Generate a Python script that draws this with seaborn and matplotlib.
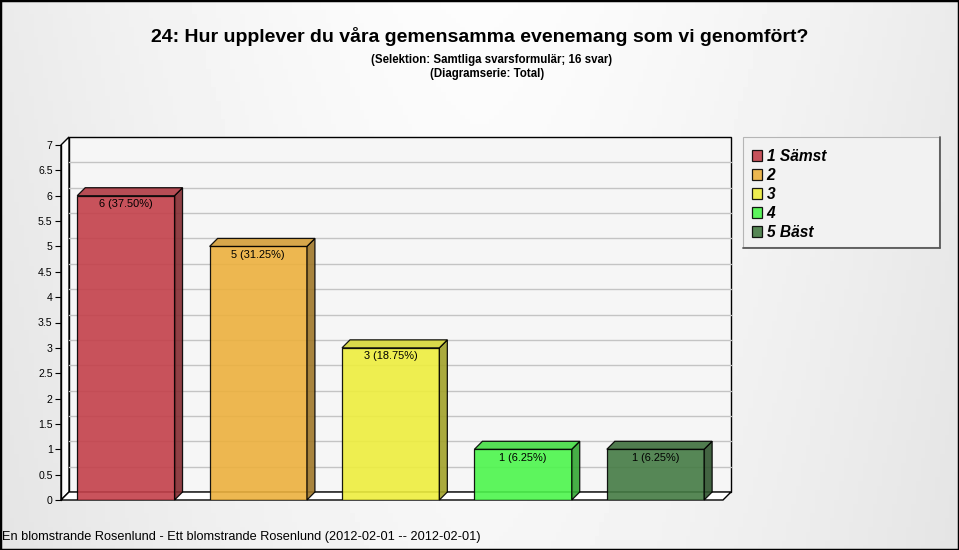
import numpy as np
import pandas as pd
import seaborn as sns
import matplotlib
matplotlib.use("Agg")
import matplotlib.pyplot as plt
from matplotlib.patches import Polygon, Patch, Rectangle
from matplotlib.lines import Line2D
import matplotlib.colors as mcolors

# ---------------- data ----------------
categories = ["1 Sämst", "2", "3", "4", "5 Bäst"]
counts = [6, 5, 3, 1, 1]
total_answers = 16
bar_colors = ["#C3404A", "#ECB13E", "#EEEE3E", "#4CF54C", "#457B44"]
yticks = [0, 0.5, 1, 1.5, 2, 2.5, 3, 3.5, 4, 4.5, 5, 5.5, 6, 6.5, 7]
title = "24: Hur upplever du våra gemensamma evenemang som vi genomfört?"
subtitle1 = "(Selektion: Samtliga svarsformulär; 16 svar)"
subtitle2 = "(Diagramserie: Total)"
footer = "En blomstrande Rosenlund - Ett blomstrande Rosenlund (2012-02-01 -- 2012-02-01)"

sns.set_theme(style="white")
plt.rcParams["font.family"] = ["Liberation Sans", "DejaVu Sans"]
plt.rcParams["text.color"] = "black"
plt.rcParams["ytick.color"] = "black"
plt.rcParams["ytick.labelcolor"] = "black"

W, H = 959, 550
fig = plt.figure(figsize=(W / 100, H / 100), dpi=100)
fig.patch.set_facecolor("#f0f0f0")

# background gradient (pixel coordinates, y downwards)
bg = fig.add_axes([0, 0, 1, 1], zorder=-10)
xx, yy = np.meshgrid(np.linspace(-1, 1, 200), np.linspace(0, 1, 120))
img = 0.99 - 0.07 * np.abs(xx) ** 1.5 - 0.025 * yy
bg.imshow(img, cmap="gray", vmin=0, vmax=1, aspect="auto", extent=[0, W, H, 0], origin="upper")
bg.set_xlim(0, W)
bg.set_ylim(H, 0)
bg.set_axis_off()
bg.add_patch(Rectangle((0, 0), 1, 1, transform=bg.transAxes, fill=False,
                       edgecolor="black", linewidth=2.5, clip_on=False))
# legend frame
bg.add_patch(Rectangle((743, 137), 196, 110, facecolor="#f2f2f2", edgecolor="#b5b5b5",
                       linewidth=0.8, zorder=2))
bg.add_line(Line2D([940, 940], [137, 248], color="#5a5a5a", linewidth=1.3, zorder=3))
bg.add_line(Line2D([743, 940], [248, 248], color="#5a5a5a", linewidth=1.3, zorder=3))

# main axes = front plane
L, R, B, T = 61, 723, 500, 145
ax = fig.add_axes([L / W, 1 - B / H, (R - L) / W, (B - T) / H])
ax.set_facecolor("none")

df = pd.DataFrame({"cat": categories, "n": counts})
sns.barplot(data=df, x="cat", y="n", hue="cat", palette=bar_colors, hue_order=categories,
            order=categories, width=0.735, saturation=1, edgecolor="black", linewidth=0.9,
            alpha=0.9, legend=False, ax=ax, zorder=3)
bars = sorted([p for p in ax.patches if isinstance(p, Rectangle) and p.get_height() > 0],
              key=lambda p: p.get_x())
ax.set_xlim(-0.49, 4.51)
ax.set_ylim(0, 7)
for s in ax.spines.values():
    s.set_visible(False)
ax.set_xlabel("")
ax.set_ylabel("")
ax.set_xticks([])
ax.set_yticks(yticks)
ax.set_yticklabels([f"{v:g}" for v in yticks], fontsize=7.6, color="black")
ax.tick_params(axis="y", length=4, width=0.8, color="black", pad=2, left=True)

# depth offset (8 px) expressed in data units
fig.canvas.draw()
inv = ax.transData.inverted()
xlo = ax.get_xlim()[0]
p0 = ax.transData.transform((xlo, 0))
p1 = inv.transform((p0[0] + 8, p0[1] + 8))
dx, dy = p1[0] - xlo, p1[1] - 0

x0, x1 = ax.get_xlim()
# back wall
ax.add_patch(Polygon([(x0 + dx, dy), (x1 + dx, dy), (x1 + dx, 7 + dy), (x0 + dx, 7 + dy)],
                     closed=True, facecolor="#f6f6f6", edgecolor="black", linewidth=1.0,
                     zorder=0, clip_on=False))
# left wall
ax.add_patch(Polygon([(x0, 0), (x0 + dx, dy), (x0 + dx, 7 + dy), (x0, 7)],
                     closed=True, facecolor="#f9f9f9", edgecolor="black", linewidth=1.0,
                     zorder=0.5, clip_on=False))
# floor
ax.add_patch(Polygon([(x0, 0), (x1, 0), (x1 + dx, dy), (x0 + dx, dy)],
                     closed=True, facecolor="#ffffff", edgecolor="black", linewidth=1.0,
                     zorder=0.5, clip_on=False))
# gridlines on back wall
for v in yticks[1:-1]:
    ax.add_line(Line2D([x0 + dx, x1 + dx], [v + dy, v + dy], color="#c4c4c4",
                       linewidth=1.0, zorder=1, clip_on=False))
# front y axis line
ax.add_line(Line2D([x0, x0], [0, 7], color="black", linewidth=1.0, zorder=2, clip_on=False))

# 3D bar sides and tops
for p, col, n in zip(bars, bar_colors, counts):
    bx0 = p.get_x()
    bx1 = bx0 + p.get_width()
    h = p.get_height()
    rgb = np.array(mcolors.to_rgb(col))
    side = Polygon([(bx1, 0), (bx1 + dx, dy), (bx1 + dx, h + dy), (bx1, h)], closed=True,
                   facecolor=rgb * 0.68, edgecolor="black", linewidth=0.9, alpha=0.9,
                   zorder=3, clip_on=False)
    top = Polygon([(bx0, h), (bx1, h), (bx1 + dx, h + dy), (bx0 + dx, h + dy)], closed=True,
                  facecolor=rgb * 0.9, edgecolor="black", linewidth=0.9, alpha=0.9,
                  zorder=3, clip_on=False)
    ax.add_patch(side)
    ax.add_patch(top)
    ax.annotate(f"{n} ({n / total_answers * 100:.2f}%)", xy=((bx0 + bx1) / 2, h),
                xytext=(0, -2.5), textcoords="offset points", ha="center", va="top",
                fontsize=7.9, color="black", zorder=5)

# titles
fig.text(480 / W, 1 - 36 / H, title, ha="center", va="center", fontsize=14, fontweight="bold")
fig.text(492 / W, 1 - 60.5 / H, subtitle1, ha="center", va="center", fontsize=8.3, fontweight="bold")
fig.text(487 / W, 1 - 73.5 / H, subtitle2, ha="center", va="center", fontsize=8.3, fontweight="bold")
fig.text(2 / W, 1 - 537 / H, footer, ha="left", va="center", fontsize=9.2)

# legend (frame drawn separately above)
handles = [Patch(facecolor=c, edgecolor="black", linewidth=0.9, alpha=0.9) for c in bar_colors]
leg = fig.legend(handles, categories, loc="upper left",
                 bbox_to_anchor=(751.5 / W, 1 - 149 / H),
                 prop={"weight": "bold", "style": "italic", "size": 11.2},
                 handlelength=0.68, handleheight=0.68, handletextpad=0.3,
                 labelspacing=0.26, borderpad=0, borderaxespad=0,
                 frameon=False)

fig.savefig("out.png", dpi=100, facecolor=fig.get_facecolor())
